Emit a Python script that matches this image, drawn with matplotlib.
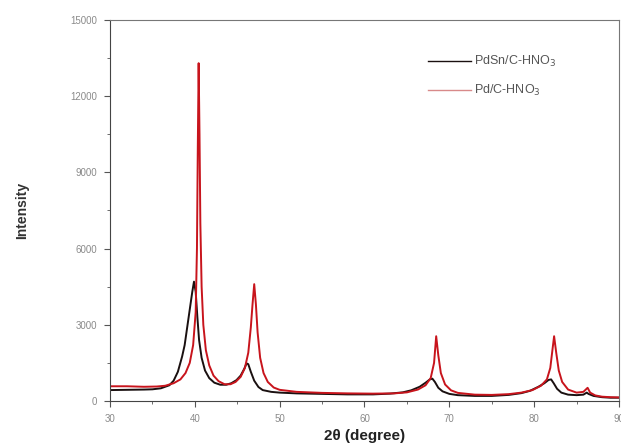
import matplotlib
matplotlib.use("Agg")
import matplotlib.pyplot as plt
from matplotlib.ticker import MultipleLocator

plt.rcParams['font.family'] = ['Liberation Sans', 'DejaVu Sans']

# PdSn/C-HNO3 (black)
pdsn_x = [30, 32, 34, 35, 36, 37, 37.5, 38, 38.5, 38.8, 39.1, 39.4, 39.7, 39.9,
          40.1, 40.3, 40.5, 40.8, 41.2, 41.7, 42.3, 43, 43.7, 44.3, 44.9, 45.4,
          45.8, 46.1, 46.3, 46.6, 47.0, 47.5, 48, 49, 50, 52, 55, 58, 61, 63,
          64.5, 65.5, 66.5, 67.2, 67.7, 68.0, 68.3, 68.7, 69.2, 70, 71, 73, 75,
          77, 78.5, 79.5, 80.5, 81.2, 81.7, 82.0, 82.3, 82.7, 83.2, 84, 85,
          85.8, 86.2, 86.4, 87, 88, 89, 90]
pdsn_y = [430, 440, 450, 460, 500, 620, 800, 1150, 1750, 2200, 2900, 3600, 4300, 4700,
          4300, 3300, 2400, 1700, 1200, 900, 720, 640, 640, 700, 820, 1000,
          1250, 1480, 1450, 1150, 800, 550, 430, 360, 330, 300, 280, 260, 260, 290,
          340, 420, 560, 720, 850, 880, 750, 520, 380, 280, 230, 200, 200,
          240, 310, 400, 560, 700, 830, 850, 700, 480, 330, 250, 230,
          250, 330, 280, 200, 150, 130, 130]

# Pd/C-HNO3 (red)
pd_x = [30, 32, 34, 35.5, 36.5, 37.5, 38.3, 38.9, 39.4, 39.8, 40.1, 40.25, 40.35,
        40.45, 40.55, 40.65, 40.8, 41.0, 41.3, 41.7, 42.2, 42.8, 43.5, 44.2, 44.8,
        45.4, 45.9, 46.3, 46.6, 46.8, 47.0, 47.2, 47.4, 47.7, 48.1, 48.6, 49.3,
        50, 52, 55, 58, 61, 63.5, 65, 66.3, 67.2, 67.8, 68.2, 68.45, 68.7, 69.0,
        69.5, 70.2, 71, 73, 75, 77, 78.5, 79.8, 80.8, 81.5, 81.9, 82.15, 82.35,
        82.6, 82.9, 83.3, 84, 85, 85.8, 86.3, 86.6, 87.2, 88, 89, 90]
pd_y = [580, 580, 560, 570, 600, 700, 850, 1100, 1500, 2200, 3500, 6000, 10000,
        13300, 10500, 7000, 4500, 3000, 2000, 1400, 1000, 780, 660, 660, 750,
        950, 1300, 1900, 2900, 3800, 4600, 3800, 2700, 1700, 1100, 750, 530,
        440, 360, 320, 300, 290, 300, 340, 450, 620, 900, 1500, 2550, 1800, 1100,
        650, 420, 320, 250, 240, 270, 330, 430, 600, 850, 1300, 2000, 2550,
        1900, 1200, 750, 450, 330, 360, 520, 330, 220, 170, 150, 140]

labels = ['PdSn/C-HNO$_3$', 'Pd/C-HNO$_3$']

fig = plt.figure(figsize=(6.21, 4.48), dpi=100)
ax = fig.add_axes([110 / 621, 47 / 448, 509 / 621, 381 / 448])

ax.plot(pdsn_x, pdsn_y, color='#1a1010', lw=1.4, label=labels[0])
ax.plot(pd_x, pd_y, color='#c8141c', lw=1.4, label=labels[1])

ax.set_xlim(30, 90)
ax.set_ylim(0, 15000)
ax.xaxis.set_major_locator(MultipleLocator(10))
ax.xaxis.set_minor_locator(MultipleLocator(5))
ax.yaxis.set_major_locator(MultipleLocator(3000))
ax.yaxis.set_minor_locator(MultipleLocator(1500))
ax.tick_params(which='both', direction='out', colors='#555555', labelcolor='#8a8a8a',
               labelsize=7)
ax.tick_params(which='major', length=4, pad=5)
ax.tick_params(which='minor', length=2.5)
for s in ax.spines.values():
    s.set_color('#777777')
ax.spines['left'].set_color('#444444')
ax.spines['bottom'].set_color('#444444')

ax.set_xlabel('2\u03b8 (degree)', fontsize=11, fontweight='bold', color='#222222', labelpad=4)
ax.set_ylabel('Intensity', fontsize=10, fontweight='bold', color='#333333', labelpad=30)

leg = ax.legend(loc='upper left', bbox_to_anchor=(0.625, 0.91), frameon=False,
                fontsize=9, handlelength=3.4, handletextpad=0.3, labelspacing=1.1,
                borderpad=0, borderaxespad=0)
for t in leg.get_texts():
    t.set_color('#555555')
leg.get_lines()[0].set_linewidth(1.0)
leg.get_lines()[1].set_linewidth(1.0)
leg.get_lines()[1].set_color('#d88a8a')

fig.savefig('out.png', dpi=100)
